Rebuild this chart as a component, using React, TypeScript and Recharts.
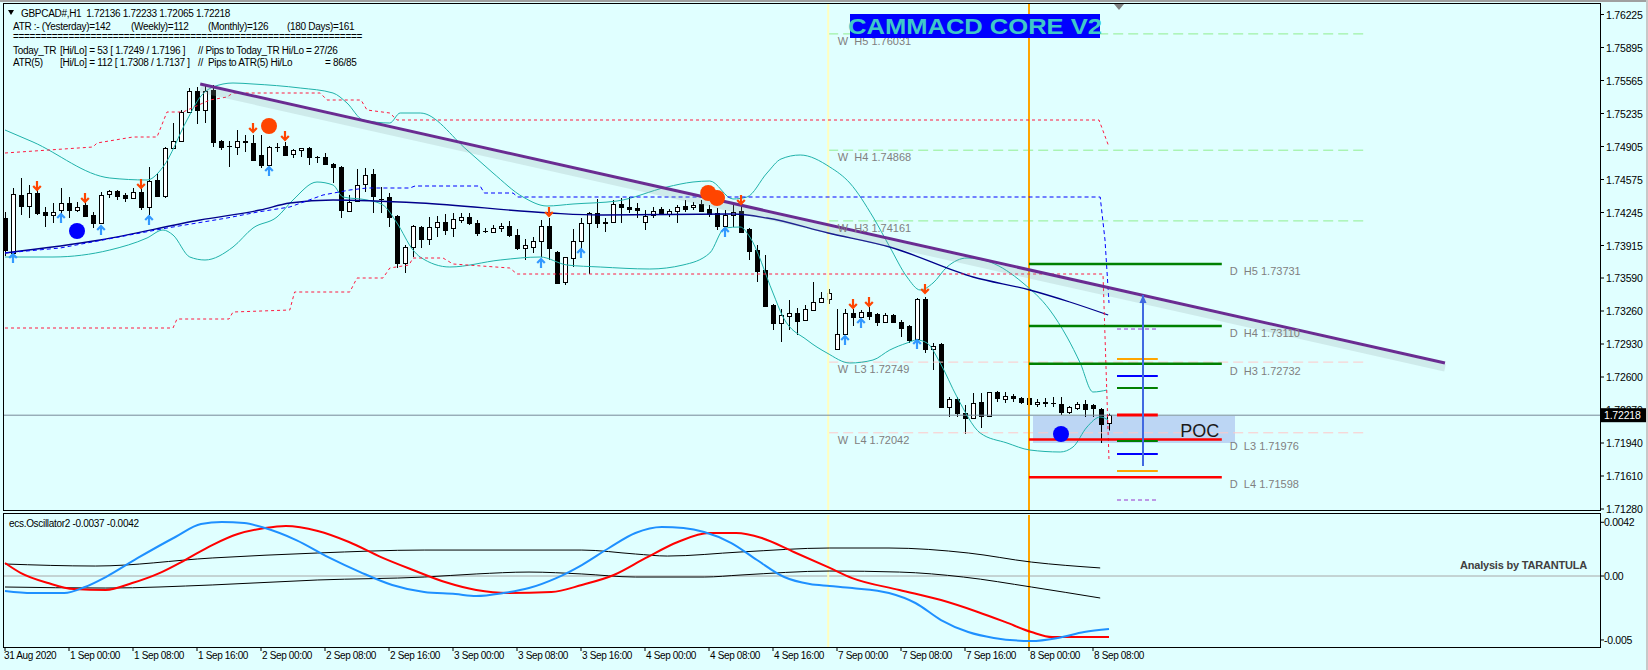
import { Bar, ComposedChart, Line, ReferenceArea, ReferenceDot, ReferenceLine, Scatter, XAxis, YAxis } from "recharts";

const FONT = '"Liberation Sans", Arial, sans-serif';
const BG = "#E0FFFF";

// bar index i = H1 bar, bar 0 = 31 Aug 16:00
const X_DOMAIN: [number, number] = [-0.125, 199.375];
const PRICE_DOMAIN: [number, number] = [1.7126, 1.7633];
const OSC_DOMAIN: [number, number] = [-0.00555, 0.00477];

const PRICE_TICKS = [1.76225, 1.75895, 1.75565, 1.75235, 1.74905, 1.74575, 1.74245, 1.73915, 1.7359, 1.7326, 1.7293, 1.726, 1.7227, 1.7194, 1.7161, 1.7128];
const LAST_PRICE = 1.72218;
const OSC_TICKS = [0.0042, 0, -0.005];
const OSC_TICK_LABELS = ["0.0042", "0.00", "-0.005"];
const TIME_TICKS = [0, 8, 16, 24, 32, 40, 48, 56, 64, 72, 80, 88, 96, 104, 112, 120, 128, 136];
const TIME_LABELS = ["31 Aug 2020", "1 Sep 00:00", "1 Sep 08:00", "1 Sep 16:00", "2 Sep 00:00", "2 Sep 08:00", "2 Sep 16:00", "3 Sep 00:00", "3 Sep 08:00", "3 Sep 16:00", "4 Sep 00:00", "4 Sep 08:00", "4 Sep 16:00", "7 Sep 00:00", "7 Sep 08:00", "7 Sep 16:00", "8 Sep 00:00", "8 Sep 08:00"];

// [open, high, low, close]
const OHLC: number[][] = [
  [1.7419, 1.7425, 1.7381, 1.7387], [1.7384, 1.7449, 1.738, 1.7443], [1.7442, 1.7459, 1.7422, 1.7431], [1.7431, 1.7452, 1.7419, 1.7444],
  [1.7444, 1.7447, 1.7422, 1.7424], [1.7425, 1.743, 1.741, 1.7422], [1.7422, 1.7434, 1.7414, 1.7425], [1.7427, 1.7449, 1.7419, 1.7434],
  [1.7434, 1.744, 1.7419, 1.7427], [1.7427, 1.7435, 1.7425, 1.743], [1.7432, 1.7435, 1.742, 1.7421], [1.7422, 1.7425, 1.7409, 1.7414],
  [1.7414, 1.7445, 1.7413, 1.7442], [1.7443, 1.7447, 1.7439, 1.7446], [1.7446, 1.7447, 1.7437, 1.7441], [1.7442, 1.7444, 1.7435, 1.7439],
  [1.7439, 1.7449, 1.7438, 1.7445], [1.7445, 1.7449, 1.7427, 1.743], [1.743, 1.747, 1.7422, 1.7456], [1.7457, 1.7464, 1.744, 1.7441],
  [1.7441, 1.749, 1.7439, 1.7489], [1.7489, 1.7514, 1.7488, 1.7496], [1.7496, 1.7527, 1.7495, 1.7525], [1.7525, 1.7549, 1.7524, 1.7546],
  [1.7546, 1.755, 1.7513, 1.7527], [1.7527, 1.7553, 1.7514, 1.7546], [1.7547, 1.7552, 1.749, 1.7495], [1.7496, 1.7497, 1.7487, 1.749],
  [1.7491, 1.7496, 1.747, 1.7491], [1.749, 1.7507, 1.7482, 1.7496], [1.7496, 1.7502, 1.7485, 1.7495], [1.7494, 1.7502, 1.7477, 1.7477],
  [1.7482, 1.7502, 1.7469, 1.7472], [1.7472, 1.7491, 1.7471, 1.749], [1.749, 1.7494, 1.7485, 1.749], [1.7491, 1.7495, 1.7482, 1.7482],
  [1.7483, 1.7488, 1.7479, 1.7487], [1.7487, 1.7489, 1.748, 1.7489], [1.7489, 1.749, 1.7472, 1.748], [1.748, 1.7481, 1.7474, 1.748],
  [1.748, 1.7484, 1.7472, 1.7473], [1.7473, 1.7474, 1.7454, 1.747], [1.747, 1.7471, 1.7419, 1.7427], [1.7426, 1.7442, 1.7425, 1.7435],
  [1.7436, 1.7468, 1.7435, 1.7452], [1.7453, 1.7469, 1.7445, 1.7462], [1.7463, 1.7468, 1.7424, 1.7441], [1.7438, 1.745, 1.7424, 1.7438],
  [1.744, 1.7444, 1.741, 1.742], [1.7421, 1.7422, 1.7369, 1.7374], [1.7374, 1.7392, 1.7364, 1.739], [1.739, 1.7412, 1.738, 1.7411],
  [1.741, 1.7411, 1.7389, 1.7398], [1.7398, 1.742, 1.7392, 1.741], [1.741, 1.7421, 1.74, 1.7415], [1.7415, 1.7423, 1.7402, 1.7407],
  [1.7409, 1.7424, 1.74, 1.7418], [1.7417, 1.7424, 1.7414, 1.742], [1.742, 1.7424, 1.7412, 1.7414], [1.7414, 1.7417, 1.7401, 1.7404],
  [1.7406, 1.7409, 1.7404, 1.7406], [1.7405, 1.7412, 1.7404, 1.7409], [1.7409, 1.7414, 1.7405, 1.7411], [1.7411, 1.7416, 1.74, 1.7402],
  [1.7402, 1.7408, 1.7387, 1.7389], [1.7389, 1.7398, 1.7377, 1.7392], [1.739, 1.74, 1.7384, 1.7396], [1.7396, 1.7417, 1.738, 1.7411],
  [1.7411, 1.7419, 1.7377, 1.7389], [1.7385, 1.7386, 1.7353, 1.7354], [1.7355, 1.738, 1.7352, 1.738], [1.7379, 1.7408, 1.737, 1.7396],
  [1.7396, 1.7419, 1.7379, 1.7414], [1.7414, 1.7425, 1.7363, 1.7424], [1.7424, 1.7438, 1.7409, 1.7414], [1.7414, 1.7419, 1.7405, 1.7415],
  [1.7415, 1.7437, 1.7414, 1.7433], [1.7433, 1.7439, 1.7414, 1.743], [1.743, 1.744, 1.7424, 1.7428], [1.7429, 1.7434, 1.7419, 1.7427],
  [1.7415, 1.7427, 1.7407, 1.7421], [1.7422, 1.743, 1.7419, 1.7426], [1.7428, 1.743, 1.7422, 1.7423], [1.7423, 1.7428, 1.742, 1.7426],
  [1.7426, 1.7432, 1.7414, 1.743], [1.7431, 1.7437, 1.7425, 1.7428], [1.743, 1.7435, 1.7427, 1.7432], [1.7433, 1.7437, 1.7425, 1.7426],
  [1.7428, 1.7432, 1.742, 1.7423], [1.7424, 1.7429, 1.7407, 1.7411], [1.7411, 1.7427, 1.741, 1.7422], [1.7422, 1.7434, 1.741, 1.7425],
  [1.7426, 1.7432, 1.7404, 1.7405], [1.7408, 1.7409, 1.7377, 1.7386], [1.7387, 1.7392, 1.7355, 1.7366], [1.7367, 1.7382, 1.733, 1.7331],
  [1.7332, 1.7333, 1.7307, 1.7314], [1.7314, 1.7328, 1.7295, 1.7322], [1.7321, 1.7337, 1.7307, 1.7324], [1.7324, 1.7329, 1.7302, 1.7316],
  [1.7317, 1.7332, 1.7316, 1.7328], [1.7327, 1.7355, 1.7326, 1.7335], [1.7335, 1.7345, 1.7334, 1.7339], [1.7338, 1.7348, 1.7333, 1.7344],
  [1.7288, 1.7328, 1.7287, 1.7303], [1.7303, 1.7328, 1.7302, 1.7324], [1.7324, 1.7328, 1.7311, 1.732], [1.732, 1.7327, 1.7319, 1.7325],
  [1.7325, 1.733, 1.7317, 1.7321], [1.7323, 1.7324, 1.7311, 1.7315], [1.7315, 1.7324, 1.7314, 1.7322], [1.7322, 1.7323, 1.7314, 1.7315],
  [1.7315, 1.7317, 1.73, 1.7309], [1.7311, 1.7312, 1.7294, 1.7297], [1.7298, 1.7339, 1.7295, 1.7338], [1.7338, 1.734, 1.7284, 1.7288],
  [1.7288, 1.7294, 1.7267, 1.7291], [1.7293, 1.7294, 1.723, 1.723], [1.723, 1.724, 1.722, 1.7238], [1.7238, 1.724, 1.722, 1.7224],
  [1.7224, 1.7232, 1.7203, 1.7219], [1.7219, 1.7244, 1.7219, 1.7234], [1.7235, 1.7244, 1.7209, 1.7221], [1.7221, 1.7245, 1.722, 1.7245],
  [1.7245, 1.7246, 1.7235, 1.7239], [1.7238, 1.7245, 1.7234, 1.7241], [1.7241, 1.7243, 1.7235, 1.7239], [1.7239, 1.724, 1.7233, 1.7235],
  [1.7239, 1.7248, 1.723, 1.7233], [1.7233, 1.7238, 1.723, 1.7235], [1.7235, 1.7239, 1.723, 1.7234], [1.7234, 1.724, 1.723, 1.7234],
  [1.7233, 1.724, 1.7222, 1.7225], [1.7225, 1.7231, 1.7223, 1.723], [1.7229, 1.7235, 1.7227, 1.7233], [1.7233, 1.7237, 1.722, 1.7228],
  [1.7232, 1.7233, 1.722, 1.7229], [1.7228, 1.7229, 1.7194, 1.7213], [1.72136, 1.72233, 1.72065, 1.72218],
];

// indicator lines, [bar, price]
const BB_UPPER = [[0, 1.7507], [3.5, 1.7495], [13.1, 1.7459], [17.75, 1.7457], [19.75, 1.747], [22.75, 1.7517], [24.4, 1.754], [26, 1.755], [28.5, 1.7554], [31, 1.7553], [36.9, 1.7549], [41, 1.7544], [42.75, 1.7534], [44.75, 1.7517], [48.1, 1.7514], [49.4, 1.7524], [51.9, 1.7524], [57.75, 1.7487], [61, 1.7464], [64.75, 1.744], [67.75, 1.7431], [71, 1.7433], [76.5, 1.7436], [82.75, 1.745], [86, 1.7455], [88.1, 1.7456], [91, 1.7438], [92.75, 1.744], [95.25, 1.7464], [97, 1.7478], [99.4, 1.7482], [103.1, 1.747], [105.6, 1.7454], [108.5, 1.742], [110.6, 1.739], [112.75, 1.736], [114.4, 1.7347], [116, 1.7354], [117.75, 1.737], [120.25, 1.7379], [123.1, 1.7375], [127.25, 1.7354], [130.6, 1.7327], [132.75, 1.73], [134.4, 1.7274], [136, 1.7245], [137.75, 1.7247]];
const BB_LOWER = [[0, 1.738], [6, 1.738], [13.1, 1.7387], [17.75, 1.7399], [19.75, 1.7407], [21, 1.7402], [23.1, 1.738], [25, 1.7377], [28.5, 1.739], [31, 1.7409], [34, 1.742], [36, 1.7437], [39, 1.7455], [41, 1.7452], [42.25, 1.744], [45.25, 1.7437], [47.25, 1.7432], [49, 1.7414], [51, 1.7387], [51.9, 1.738], [55.6, 1.737], [61.9, 1.7377], [66.9, 1.738], [70.25, 1.7372], [74.4, 1.737], [80.6, 1.7368], [84.75, 1.7372], [88.1, 1.7384], [90, 1.7409], [91.9, 1.741], [93.1, 1.74], [96, 1.7344], [97.25, 1.732], [100.25, 1.7297], [102.75, 1.7284], [105.6, 1.7274], [108.5, 1.7277], [110.6, 1.7287], [112.75, 1.7294], [114, 1.7297], [115.25, 1.7294], [116.9, 1.7274], [119, 1.724], [121.9, 1.7204], [125.25, 1.7194], [128.1, 1.7187], [131.9, 1.7185], [133.5, 1.719], [135.25, 1.721], [136.9, 1.722], [137.9, 1.7217]];
const MA_SLOW = [[0, 1.7384], [11.9, 1.7397], [24.4, 1.7417], [31.9, 1.7427], [35.6, 1.7434], [41, 1.7437], [51.9, 1.7434], [68.1, 1.7424], [74.4, 1.7422], [91, 1.7423], [95.25, 1.7419], [102.9, 1.7404], [110.6, 1.739], [121, 1.736], [128.1, 1.7347], [133.1, 1.7335], [137.9, 1.7322]];
const MA_STEP = [[0, 1.7384], [6.9, 1.7389], [20.25, 1.7409], [27.75, 1.7419], [31.6, 1.7425], [35.6, 1.743], [39.75, 1.7442], [43.1, 1.7447], [45.25, 1.7449], [50.6, 1.7449], [51.25, 1.7451], [59.4, 1.7451], [59.9, 1.7444], [63.5, 1.7444], [64.1, 1.744], [136.9, 1.744], [137.5, 1.7397], [138, 1.7334]];
const CH_UPPER = [[0, 1.7484], [11, 1.749], [11.5, 1.7494], [16, 1.75], [19, 1.75], [20.25, 1.7525], [22.25, 1.7525], [25.6, 1.7537], [27.75, 1.754], [28.5, 1.7544], [39.4, 1.7544], [40.25, 1.7537], [44.5, 1.7537], [45.25, 1.7527], [48.1, 1.7524], [49, 1.7517], [136.75, 1.7517], [138, 1.749]];
const CH_LOWER = [[0, 1.7309], [21, 1.7309], [21.5, 1.7318], [28, 1.7318], [28.5, 1.7325], [35.6, 1.7327], [36.2, 1.7345], [43.1, 1.7345], [44, 1.7359], [47.25, 1.7359], [48.1, 1.7369], [50.5, 1.7372], [51, 1.7379], [54.75, 1.7379], [56, 1.7373], [63.1, 1.7369], [64, 1.7363], [137.25, 1.7363], [138, 1.7177]];
const TREND = [[24.4, 1.7553], [180, 1.7274]];

const DOWN_ARROWS = [[4, 1.7451], [10, 1.7439], [17, 1.7453], [31, 1.7509], [35, 1.7501], [68, 1.7425], [92, 1.7437], [106, 1.7333], [108, 1.7335], [115, 1.7348]];
const UP_ARROWS = [[1, 1.7379], [7, 1.7419], [12, 1.7407], [18, 1.7417], [33, 1.7466], [67, 1.7374], [72, 1.7384], [90, 1.7405], [105, 1.7297], [107, 1.7314], [114, 1.7293]];
const BLUE_DOTS = [[9, 1.7406], [132, 1.7203]];
const ORANGE_DOTS = [[33, 1.7511], [87.9, 1.7444], [89, 1.7439]];

// pivots
const WEEK_SPAN = [102.9, 170.25];
const W_NAMES = ["H5", "H4", "H3", "L3", "L4"];
const W_LEVELS = [1.76031, 1.74868, 1.74161, 1.72749, 1.72042];
const DAY_SPAN = [128, 152.1];
const D_NAMES = ["H5", "H4", "H3", "L3", "L4"];
const D_LEVELS = [1.73731, 1.7311, 1.72732, 1.71976, 1.71598];
const RANGE_SPAN = [139, 144.1];
const RANGE_LEVELS = [1.7308, 1.7278, 1.7261, 1.7249, 1.7222, 1.7196, 1.7183, 1.7166, 1.7137];
const RANGE_COLORS = ["#9932CC", "#FFA500", "#0000FF", "#008000", "#FF0000", "#008000", "#0000FF", "#FFA500", "#9932CC"];
const POC_BOX = { x1: 128.5, x2: 153.75, lo: 1.7194, hi: 1.7221 };
const ATR_ARROW = [[142.25, 1.7171], [142.25, 1.7342]];
const WEEK_BAR = 102.9;
const DAY_BAR = 128;

// ecs.Oscillator2, [bar, value]
const OSC_BLUE = [[0, -0.00117], [3.4, -0.00133], [7.4, -0.00133], [10, -0.00086], [12.6, -0.00008], [16.6, 0.00141], [21.3, 0.00305], [24.5, 0.00406], [27.1, 0.00422], [29.9, 0.00414], [32.5, 0.00375], [36.4, 0.00281], [40.4, 0.00148], [44.4, 0.00031], [48.4, -0.0007], [52.4, -0.00125], [56.3, -0.00141], [58.9, -0.00156], [62.3, -0.00133], [65.5, -0.00094], [68.9, -0.00016], [72.1, 0.00086], [75.5, 0.00219], [78.8, 0.00336], [82.1, 0.00383], [84.8, 0.00375], [87.4, 0.00344], [90.8, 0.00258], [94, 0.00125], [97.4, -0.00008], [100.6, -0.00063], [103.1, -0.00078], [105.9, -0.00094], [110.5, -0.00133], [113.8, -0.00211], [117, -0.00344], [120.4, -0.00438], [123.6, -0.00484], [128.3, -0.00508], [131.6, -0.00484], [134.9, -0.00438], [138, -0.00414]];
const OSC_RED = [[0, 0.00102], [2, 0.00023], [5.4, -0.00055], [8.6, -0.00102], [12.6, -0.00109], [15.9, -0.00055], [19.3, 0.00023], [22.5, 0.00125], [25.9, 0.00242], [29.1, 0.00328], [32.5, 0.00375], [35.1, 0.00391], [39.1, 0.00352], [43, 0.00266], [47, 0.00148], [51, 0.00047], [55, -0.00047], [58.9, -0.00109], [62.9, -0.00133], [68.3, -0.00125], [72.1, -0.0007], [76.1, 0.00008], [80.1, 0.00141], [84.1, 0.00266], [88, 0.00336], [91.4, 0.00336], [94.6, 0.00297], [98.6, 0.00188], [103.1, 0.00063], [105.9, -0.00016], [111.8, -0.00109], [117, -0.00188], [121.6, -0.00281], [125, -0.00359], [128.3, -0.00438], [130.9, -0.00477], [138, -0.00477]];
const OSC_SLOW_A = [[0, 0.00094], [11.3, 0.00078], [25.9, 0.00141], [39.1, 0.0018], [52.4, 0.00203], [72.1, 0.00203], [78.8, 0.00172], [82.8, 0.00156], [92, 0.00188], [103.1, 0.00219], [110.5, 0.00219], [120.4, 0.0018], [128.3, 0.00109], [136.9, 0.00063]];
const OSC_SLOW_B = [[0, -0.00086], [12.6, -0.00094], [25.9, -0.0007], [39.1, -0.00031], [52.4, -0.00008], [58.9, 0.00016], [65.5, 0.00031], [72.1, 0.00016], [78.8, -0.00008], [87.4, -0.00008], [92, 0.00008], [103.1, 0.00039], [111.8, 0.00031], [119.8, -0.00008], [128.3, -0.00086], [136.9, -0.00172]];

const pts = (a: number[][]) => a.map(([i, v]) => ({ i, v }));
const candleRows = OHLC.map(([o, h, l, c], i) => ({ i, o, h, l, c, range: [l, h] }));

function Candle(props: any) {
  const { x, y, width, height, payload } = props;
  if (x == null || !payload) return null;
  const { o, h, l, c } = payload;
  const cx = Math.round(x + width / 2) + 0.5;
  const k = h > l ? height / (h - l) : 0;
  const yO = y + (h - o) * k;
  const yC = y + (h - c) * k;
  const top = Math.round(Math.min(yO, yC)) + 0.5;
  const bot = Math.round(Math.max(yO, yC)) + 0.5;
  return (
    <g>
      <line x1={cx} x2={cx} y1={y} y2={y + height} stroke="#000" strokeWidth={1} />
      <rect x={cx - 2} y={top} width={4} height={Math.max(bot - top, 0.01)} fill={c > o ? "#fff" : "#000"} stroke="#000" strokeWidth={1} />
    </g>
  );
}

function DownArrow({ cx, cy }: any) {
  return (
    <g stroke="#FF4500" strokeWidth={2.2} fill="none">
      <line x1={cx} y1={cy - 5} x2={cx} y2={cy + 3} />
      <polyline points={`${cx - 3.8},${cy} ${cx},${cy + 4} ${cx + 3.8},${cy}`} />
    </g>
  );
}

function UpArrow({ cx, cy }: any) {
  return (
    <g stroke="#3399FF" strokeWidth={2.2} fill="none">
      <line x1={cx} y1={cy + 5} x2={cx} y2={cy - 3} />
      <polyline points={`${cx - 3.8},${cy} ${cx},${cy - 4} ${cx + 3.8},${cy}`} />
    </g>
  );
}

const dotShape = (fill: string) => ({ cx, cy }: any) => <circle cx={cx} cy={cy} r={8} fill={fill} />;

const textShape = (label: string, dx: number, dy: number, size: number, fill: string) => ({ cx, cy }: any) => (
  <text x={cx + dx} y={cy + dy} fontFamily={FONT} fontSize={size} fill={fill} style={{ whiteSpace: "pre" }}>{label}</text>
);

function PriceTick({ x, y, payload }: any) {
  const v = payload.value;
  if (v === LAST_PRICE) {
    return (
      <g>
        <rect x={x - 5} y={y - 7} width={45} height={14} fill="#000" />
        <text x={x - 2} y={y + 4} fontFamily={FONT} fontSize={10.5} fill="#fff" letterSpacing={-0.2}>{v.toFixed(5)}</text>
      </g>
    );
  }
  return <text x={x} y={y + 4} fontFamily={FONT} fontSize={10.5} fill="#000" letterSpacing={-0.2}>{v.toFixed(5)}</text>;
}

function OscTick({ x, y, payload }: any) {
  const k = OSC_TICKS.indexOf(payload.value);
  return <text x={x - 2} y={y + 4} fontFamily={FONT} fontSize={10.5} fill="#000" letterSpacing={-0.3}>{OSC_TICK_LABELS[k]}</text>;
}

function TimeTick({ x, y, payload }: any) {
  const k = TIME_TICKS.indexOf(payload.value);
  return <text x={k === 0 ? x - 1 : x + 1} y={y + 6} fontFamily={FONT} fontSize={10} fill="#000" letterSpacing={-0.35}>{TIME_LABELS[k]}</text>;
}

function PriceChart() {
  return (
    <ComposedChart width={1648} height={516} data={candleRows} margin={{ top: 4, right: 0, bottom: 5, left: 4 }}>
      <XAxis type="number" dataKey="i" domain={X_DOMAIN} allowDataOverflow hide />
      <YAxis orientation="right" width={48} type="number" domain={PRICE_DOMAIN} allowDataOverflow ticks={[...PRICE_TICKS, LAST_PRICE]} interval={0} tick={<PriceTick />} tickSize={4} tickLine={{ stroke: "#000" }} axisLine={false} />

      {W_LEVELS.map((p, k) => (
        <ReferenceLine key={"w" + k} segment={[{ x: WEEK_SPAN[0], y: p }, { x: WEEK_SPAN[1], y: p }]} stroke={k < 3 ? "#90EE90" : "#FFC8C8"} strokeDasharray="10 5" />
      ))}
      <ReferenceArea x1={POC_BOX.x1} x2={POC_BOX.x2} y1={POC_BOX.lo} y2={POC_BOX.hi} fill="#BCD6F4" fillOpacity={1} stroke="none" />
      <ReferenceLine x={WEEK_BAR} stroke="#FFFFC0" strokeWidth={2} />
      <ReferenceLine x={DAY_BAR} stroke="#FFA500" strokeWidth={2} />
      <ReferenceLine y={LAST_PRICE} stroke="#778899" />

      <Line data={pts(BB_UPPER)} dataKey="v" type="monotone" stroke="#20B2AA" strokeWidth={1} dot={false} isAnimationActive={false} />
      <Line data={pts(BB_LOWER)} dataKey="v" type="monotone" stroke="#20B2AA" strokeWidth={1} dot={false} isAnimationActive={false} />
      <Line data={pts(MA_SLOW)} dataKey="v" type="monotone" stroke="#00008B" strokeWidth={1.3} dot={false} isAnimationActive={false} />
      <Line data={pts(MA_STEP)} dataKey="v" type="linear" stroke="#0000FF" strokeWidth={1} strokeDasharray="4 3" dot={false} isAnimationActive={false} />
      <Line data={pts(CH_UPPER)} dataKey="v" type="linear" stroke="#FF1A40" strokeWidth={1} strokeDasharray="3 3" dot={false} isAnimationActive={false} />
      <Line data={pts(CH_LOWER)} dataKey="v" type="linear" stroke="#FF1A40" strokeWidth={1} strokeDasharray="3 3" dot={false} isAnimationActive={false} />

      <Bar dataKey="range" barSize={5} shape={<Candle />} isAnimationActive={false} />

      <ReferenceLine segment={TREND.map(([x, y]) => ({ x, y: y - 0.0005 }))} stroke="#8FA3A3" strokeOpacity={0.22} strokeWidth={7} />
      <ReferenceLine segment={TREND.map(([x, y]) => ({ x, y }))} stroke="#6A2C91" strokeWidth={3} />

      {D_LEVELS.map((p, k) => (
        <ReferenceLine key={"d" + k} segment={[{ x: DAY_SPAN[0], y: p }, { x: DAY_SPAN[1], y: p }]} stroke={k < 3 ? "#008000" : "#FF0000"} strokeWidth={2.5} />
      ))}
      {RANGE_LEVELS.map((p, k) => (
        <ReferenceLine key={"r" + k} segment={[{ x: RANGE_SPAN[0], y: p }, { x: RANGE_SPAN[1], y: p }]} stroke={RANGE_COLORS[k]} strokeWidth={k === 0 || k === 8 ? 1 : k === 4 ? 3 : 2} strokeDasharray={k === 0 || k === 8 ? "4 3" : undefined} />
      ))}
      <ReferenceLine segment={ATR_ARROW.map(([x, y]) => ({ x, y }))} stroke="#4169E1" strokeWidth={2} />
      <ReferenceDot x={ATR_ARROW[1][0]} y={ATR_ARROW[1][1]} r={0} ifOverflow="visible" shape={({ cx, cy }: any) => <polygon points={`${cx - 3.5},${cy + 8} ${cx + 3.5},${cy + 8} ${cx},${cy}`} fill="#4169E1" />} />

      <Scatter data={pts(DOWN_ARROWS)} dataKey="v" shape={<DownArrow />} isAnimationActive={false} />
      <Scatter data={pts(UP_ARROWS)} dataKey="v" shape={<UpArrow />} isAnimationActive={false} />
      <Scatter data={pts(BLUE_DOTS)} dataKey="v" shape={dotShape("#0000FF")} isAnimationActive={false} />
      <Scatter data={pts(ORANGE_DOTS)} dataKey="v" shape={dotShape("#FF4500")} isAnimationActive={false} />

      {W_LEVELS.map((p, k) => (
        <ReferenceDot key={"wl" + k} x={104.1} y={p} r={0} ifOverflow="visible" shape={textShape(`W  ${W_NAMES[k]} ${p.toFixed(5)}`, 0, 11, 11, "#808080")} />
      ))}
      {D_LEVELS.map((p, k) => (
        <ReferenceDot key={"dl" + k} x={153.1} y={p} r={0} ifOverflow="visible" shape={textShape(`D  ${D_NAMES[k]} ${p.toFixed(5)}`, 0, 11, 11, "#808080")} />
      ))}
      <ReferenceDot x={146.9} y={(POC_BOX.lo + POC_BOX.hi) / 2} r={0} ifOverflow="visible" shape={textShape("POC", 0, 7, 18, "#1A1A1A")} />
    </ComposedChart>
  );
}

function OscChart() {
  return (
    <ComposedChart width={1648} height={158} margin={{ top: 3, right: 0, bottom: 0, left: 4 }}>
      <XAxis type="number" dataKey="i" domain={X_DOMAIN} allowDataOverflow ticks={TIME_TICKS} interval={0} tick={<TimeTick />} tickSize={4} height={23} axisLine={false} tickLine={{ stroke: "#000" }} />
      <YAxis orientation="right" width={48} type="number" domain={OSC_DOMAIN} allowDataOverflow ticks={OSC_TICKS} interval={0} tick={<OscTick />} tickSize={4} tickLine={{ stroke: "#000" }} axisLine={false} />
      <ReferenceLine y={0} stroke="#A8A8A8" />
      <ReferenceLine x={WEEK_BAR} stroke="#FFFFC0" strokeWidth={2} />
      <ReferenceLine x={DAY_BAR} stroke="#FFA500" strokeWidth={2} />
      <Line data={pts(OSC_SLOW_A)} dataKey="v" type="monotone" stroke="#000" strokeWidth={1} dot={false} isAnimationActive={false} />
      <Line data={pts(OSC_SLOW_B)} dataKey="v" type="monotone" stroke="#000" strokeWidth={1} dot={false} isAnimationActive={false} />
      <Line data={pts(OSC_RED)} dataKey="v" type="monotone" stroke="#FF0000" strokeWidth={2} dot={false} isAnimationActive={false} />
      <Line data={pts(OSC_BLUE)} dataKey="v" type="monotone" stroke="#1E90FF" strokeWidth={2} dot={false} isAnimationActive={false} />
    </ComposedChart>
  );
}

function Overlay() {
  const t = { fontFamily: FONT, fontSize: 10, fill: "#000", letterSpacing: -0.3, style: { whiteSpace: "pre" as const } };
  return (
    <svg width={1648} height={670} style={{ position: "absolute", left: 0, top: 0, pointerEvents: "none" }}>
      <rect x={0} y={0} width={1648} height={2} fill="#A0A0A0" />
      <rect x={1646} y={0} width={2} height={670} fill="#C8C8C8" />
      <rect x={3.5} y={3.5} width={1597} height={507} fill="none" stroke="#000" />
      <rect x={3.5} y={513.5} width={1597} height={134} fill="none" stroke="#000" />
      <polygon points="1114,4 1124,4 1119,10" fill="#808080" />

      <polygon points="8,10 14,10 11,15" fill="#000" />
      <text x={21} y={16.5} {...t}>GBPCAD#,H1  1.72136 1.72233 1.72065 1.72218</text>
      <text x={13} y={29.5} {...t}>ATR :- (Yesterday)=142</text>
      <text x={131} y={29.5} {...t}>(Weekly)=112</text>
      <text x={208} y={29.5} {...t}>(Monthly)=126</text>
      <text x={287} y={29.5} {...t}>(180 Days)=161</text>
      <text x={13} y={39.5} {...t}>{"=".repeat(63)}</text>
      <text x={13} y={53.5} {...t}>Today_TR</text>
      <text x={60} y={53.5} {...t}>[Hi/Lo] = 53 [ 1.7249 / 1.7196 ]</text>
      <text x={198} y={53.5} {...t}>// Pips to Today_TR Hi/Lo</text>
      <text x={306} y={53.5} {...t}>= 27/26</text>
      <text x={13} y={65.5} {...t}>ATR(5)</text>
      <text x={60} y={65.5} {...t}>[Hi/Lo] = 112 [ 1.7308 / 1.7137 ]</text>
      <text x={198} y={65.5} {...t}>//  Pips to ATR(5) Hi/Lo</text>
      <text x={325} y={65.5} {...t}>= 86/85</text>

      <rect x={850} y={14} width={250} height={24} fill="#0000FF" />
      <text x={848} y={33.5} fontFamily={FONT} fontSize={22} fontWeight="bold" fill="#40C8C8" textLength={254} lengthAdjust="spacingAndGlyphs">CAMMACD CORE V2</text>

      <text x={9} y={526.5} {...t}>ecs.Oscillator2 -0.0037 -0.0042</text>
      <text x={1587} y={569} fontFamily={FONT} fontSize={11} fontWeight="bold" fill="#404040" textAnchor="end" letterSpacing={-0.2}>Analysis by TARANTULA</text>
    </svg>
  );
}

export default function App() {
  return (
    <div style={{ position: "absolute", left: 0, top: 0, width: 1648, height: 670, background: BG, overflow: "hidden" }}>
      <div style={{ position: "absolute", left: 0, top: 512 }}>
        <OscChart />
      </div>
      <div style={{ position: "absolute", left: 0, top: 0 }}>
        <PriceChart />
      </div>
      <Overlay />
    </div>
  );
}
